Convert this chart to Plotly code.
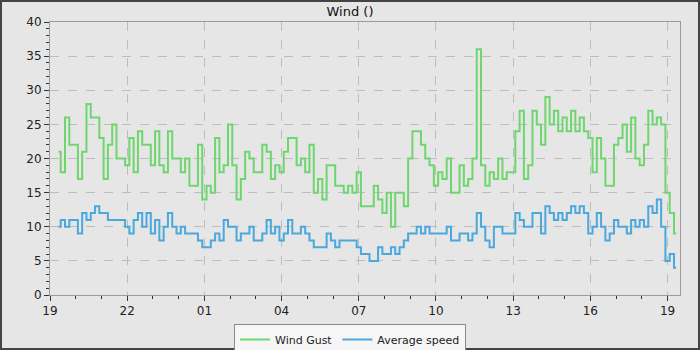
import pandas as pd
import plotly.graph_objects as go

# 10-minute samples, 19:20 to 19:20 the next day
start_time = "2024-01-01 19:20"
n_samples = 145
times = pd.date_range(start_time, periods=n_samples, freq="10min")

wind_gust = [
    21, 18, 26, 22, 22, 17, 21, 28, 26, 26,
    23, 17, 22, 25, 20, 20, 19, 23, 18, 24,
    22, 22, 19, 24, 19, 18, 24, 20, 20, 18,
    20, 16, 16, 22, 14, 16, 15, 23, 18, 19,
    25, 19, 14, 17, 21, 20, 18, 18, 22, 21,
    17, 19, 18, 21, 23, 23, 19, 20, 18, 22,
    15, 17, 14, 19, 19, 16, 16, 15, 16, 15,
    18, 13, 13, 13, 16, 14, 12, 15, 10, 15,
    15, 13, 20, 24, 24, 22, 20, 19, 16, 18,
    17, 20, 15, 15, 19, 16, 17, 20, 36, 19,
    16, 18, 17, 20, 17, 18, 18, 24, 27, 17,
    19, 27, 25, 22, 29, 25, 27, 24, 26, 24,
    27, 24, 26, 24, 23, 18, 23, 20, 16, 16,
    22, 23, 25, 21, 26, 20, 19, 22, 27, 25,
    26, 25, 15, 12, 9,
]

average_speed = [
    10, 11, 10, 11, 11, 9, 12, 11, 12, 13,
    12, 12, 11, 11, 11, 11, 10, 9, 11, 12,
    10, 12, 9, 11, 8, 10, 12, 10, 9, 10,
    9, 9, 9, 8, 7, 7, 8, 9, 8, 11,
    10, 10, 8, 9, 9, 10, 8, 8, 9, 11,
    9, 10, 8, 9, 11, 9, 9, 10, 9, 8,
    7, 7, 7, 9, 8, 7, 8, 8, 8, 8,
    7, 6, 6, 5, 5, 7, 6, 6, 7, 6,
    7, 8, 9, 9, 10, 9, 10, 9, 9, 9,
    9, 10, 8, 8, 9, 9, 8, 9, 12, 10,
    8, 7, 10, 10, 9, 9, 9, 12, 11, 10,
    10, 12, 12, 9, 13, 12, 11, 12, 11, 12,
    13, 12, 13, 12, 9, 10, 12, 10, 8, 9,
    11, 10, 10, 9, 11, 10, 11, 10, 13, 12,
    14, 10, 5, 6, 4,
]

series_names = ["Wind Gust", "Average speed"]
series_colors = ["#6fd66f", "#4aa8dc"]

x_range = ["2024-01-01 19:00", "2024-01-02 19:29"]

fig = go.Figure()
for name, values, color in zip(series_names, [wind_gust, average_speed], series_colors):
    fig.add_trace(go.Scatter(
        x=times, y=values, name=name, mode="lines",
        line=dict(color=color, width=2, shape="hvh"),
    ))

bg = "#e6e6e6"
grid = "#bdbdbd"
axis_line = "#9a9a9a"
tick_col = "#333333"

fig.update_layout(
    width=700, height=350,
    margin=dict(l=50, r=20, t=22, b=55, autoexpand=False),
    paper_bgcolor=bg, plot_bgcolor=bg,
    font=dict(family="DejaVu Sans", size=12, color="#222222"),
    title=dict(text="Wind ()", x=0.5, xref="container", xanchor="center",
               y=1 - 11 / 350, yref="container", yanchor="middle",
               font=dict(size=13, color="#111111")),
    showlegend=True,
    legend=dict(orientation="h", x=0.5, xanchor="center", xref="container",
                y=1 - 324 / 350, yref="container", yanchor="top",
                bgcolor="#f6f6f6", bordercolor="#8a8a8a", borderwidth=1,
                font=dict(size=11, color="#222222"), itemwidth=30,
                tracegroupgap=0),
    xaxis=dict(
        type="date", range=x_range,
        tick0="2024-01-01 19:00", dtick=3 * 3600 * 1000, tickformat="%H",
        ticks="outside", ticklen=5, tickcolor=tick_col,
        showgrid=True, gridcolor=grid, griddash="dash", gridwidth=1,
        showline=True, linecolor=axis_line, linewidth=1, mirror=True,
        zeroline=False,
        minor=dict(dtick=3600 * 1000, ticks="outside", ticklen=3,
                   tickcolor=tick_col, showgrid=False),
    ),
    yaxis=dict(
        range=[0, 40], dtick=5, tick0=0,
        ticks="outside", ticklen=5, tickcolor=tick_col,
        showgrid=True, gridcolor=grid, griddash="dash", gridwidth=1,
        showline=True, linecolor=axis_line, linewidth=1, mirror=True,
        zeroline=False,
        minor=dict(dtick=1, ticks="outside", ticklen=3,
                   tickcolor=tick_col, showgrid=False),
    ),
)

# dark frame around the whole canvas
plot_w = 700 - 50 - 20
plot_h = 350 - 22 - 55
fig.add_shape(
    type="rect", xref="paper", yref="paper",
    x0=-50 / plot_w, x1=1 + 20 / plot_w,
    y0=-55 / plot_h, y1=1 + 22 / plot_h,
    line=dict(color="#444444", width=4), fillcolor="rgba(0,0,0,0)",
    layer="above",
)

fig.write_html("out.html")
